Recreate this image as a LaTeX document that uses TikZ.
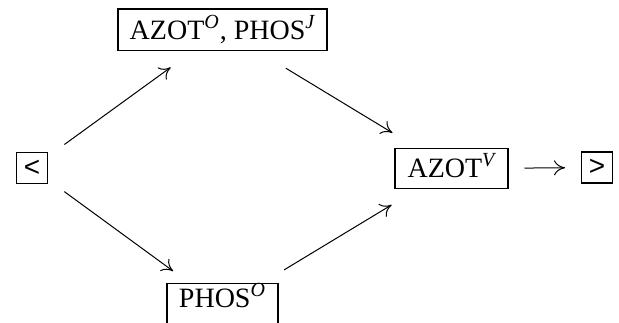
\documentclass[tikz,border=0pt]{standalone}
\usepackage{fontspec}
\setmainfont{Liberation Serif}
\newfontfamily\symfont{Liberation Sans}
\usetikzlibrary{arrows.meta}
\newcommand\supit[1]{\raisebox{0.4em}{\fontsize{20}{24}\selectfont\itshape #1\kern1pt}}
\begin{document}
\begin{tikzpicture}[x=1pt,y=-1pt,
  box/.style={draw,line width=1.3pt,inner xsep=4pt,inner ysep=3pt,font=\fontsize{28}{34}\selectfont},
  sym/.style={draw,line width=1.3pt,minimum width=31pt,minimum height=31pt,inner sep=0pt,font=\symfont\fontsize{28}{32}\selectfont},
  conn/.style={line width=1pt,-{Computer Modern Rightarrow[length=11pt,width=15pt,line width=1pt]}}]
\useasboundingbox (0,0) rectangle (619,323);
\clip (0,0) rectangle (619,323);
\node[sym] (lt) at (32,168) {<};
\node[box,minimum width=209pt,text height=27.7pt,text depth=8pt,anchor=north] (top) at (222.5,8.3) {AZOT\supit{O}, PHOS\supit{J}};
\node[box,minimum width=113pt,text height=26pt,text depth=8pt,anchor=north] (mid) at (451.5,148) {AZOT\supit{V}\hspace{6pt}};
\node[box,minimum width=111pt,text height=21pt,text depth=20pt,anchor=north] (bot) at (222.5,283) {PHOS\supit{O}};
\node[sym] (gt) at (597,167.5) {>};
\draw[conn,shorten <=40pt,shorten >=64pt] (lt.center) -- (top.center);
\draw[conn,shorten <=74pt,shorten >=69pt] (top.center) -- (mid.center);
\draw[conn,shorten <=40pt,shorten >=61pt] (lt.center) -- (bot.center);
\draw[conn,shorten <=72pt,shorten >=70pt] (bot.center) -- (mid.center);
\draw[conn,shorten <=73pt,shorten >=32pt] (mid.center) -- (gt.center);
\end{tikzpicture}
\end{document}
